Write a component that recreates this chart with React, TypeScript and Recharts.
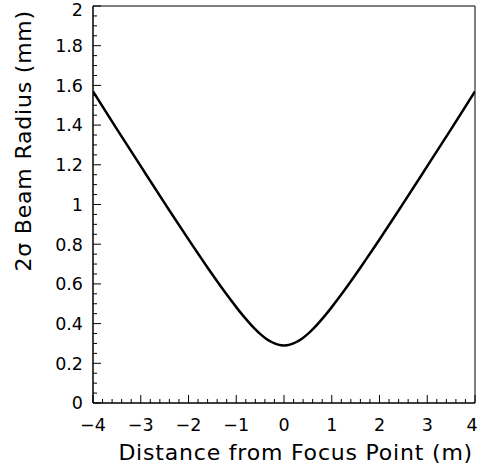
import React from "react";
import { LineChart, Line, XAxis, YAxis, ReferenceArea } from "recharts";

// beam radius (finer steps around the waist)
const distance = [
  -4, -3.5, -3, -2.5, -2, -1.75, -1.5, -1.25, -1, -0.875, -0.75, -0.625, -0.5,
  -0.375, -0.25, -0.125, 0, 0.125, 0.25, 0.375, 0.5, 0.625, 0.75, 0.875, 1,
  1.25, 1.5, 1.75, 2, 2.5, 3, 3.5, 4,
];
const radius = [
  1.57, 1.38, 1.193, 1.007, 0.824, 0.735, 0.647, 0.563, 0.483, 0.445, 0.41,
  0.377, 0.348, 0.324, 0.306, 0.294, 0.29, 0.294, 0.306, 0.324, 0.348, 0.377,
  0.41, 0.445, 0.483, 0.563, 0.647, 0.735, 0.824, 1.007, 1.193, 1.38, 1.57,
];

const xMajor = [-4, -3, -2, -1, 0, 1, 2, 3, 4];
const yMajor = [0, 0.2, 0.4, 0.6, 0.8, 1, 1.2, 1.4, 1.6, 1.8, 2];
const xTitle = "Distance from Focus Point (m)";
const yTitle = "2\u03c3 Beam Radius (mm)";

const FONT = "'DejaVu Sans', sans-serif";
const W = 479;

const data = distance.map((d, i) => ({ d, r: radius[i] }));

// minor ticks: 5 per unit on x, 4 per label step on y
const xTicks: number[] = [];
for (let i = -20; i <= 20; i++) xTicks.push(+(i * 0.2).toFixed(2));
const yTicks: number[] = [];
for (let i = 0; i <= 40; i++) yTicks.push(+(i * 0.05).toFixed(2));

const isMajor = (v: number, list: number[]) =>
  list.some((m) => Math.abs(m - v) < 1e-6);

const fmt = (v: number) =>
  v < 0 ? "\u2212" + String(Math.abs(v)) : String(v);

const XTick = (props: any) => {
  const { x, y, payload } = props;
  const major = isMajor(payload.value, xMajor);
  // keep the last label inside the page edge
  const tx = Math.min(x, W - 7);
  return (
    <g>
      <line x1={x} x2={x} y1={y} y2={y - (major ? 8 : 4)} stroke="#000" />
      {major && (
        <text
          x={tx}
          y={y + 28}
          textAnchor="middle"
          fontSize={17.5}
          fontFamily={FONT}
          fill="#000"
        >
          {fmt(payload.value)}
        </text>
      )}
    </g>
  );
};

const YTick = (props: any) => {
  const { x, y, payload } = props;
  const major = isMajor(payload.value, yMajor);
  const ty = Math.max(y, 10);
  return (
    <g>
      <line x1={x} x2={x + (major ? 8 : 4)} y1={y} y2={y} stroke="#000" />
      {major && (
        <text
          x={x - 10}
          y={ty}
          dy="0.36em"
          textAnchor="end"
          fontSize={17.5}
          fontFamily={FONT}
          fill="#000"
        >
          {fmt(payload.value)}
        </text>
      )}
    </g>
  );
};

export default function App() {
  return (
    <div
      style={{
        position: "absolute",
        left: 0,
        top: 0,
        width: W,
        height: 467,
        background: "#fff",
      }}
    >
      <LineChart
        width={W}
        height={467}
        data={data}
        margin={{ top: 6, right: 4, bottom: 0, left: 0 }}
      >
        <XAxis
          dataKey="d"
          type="number"
          domain={[-4, 4]}
          ticks={xTicks}
          interval={0}
          tick={<XTick />}
          tickLine={false}
          tickSize={0}
          tickMargin={0}
          height={64}
          stroke="#000"
          allowDataOverflow
        />
        <YAxis
          type="number"
          domain={[0, 2]}
          ticks={yTicks}
          interval={0}
          tick={<YTick />}
          tickLine={false}
          tickSize={0}
          tickMargin={0}
          width={93}
          stroke="#000"
          allowDataOverflow
        />
        <ReferenceArea
          x1={-4}
          x2={4}
          y1={0}
          y2={2}
          fill="none"
          stroke="#000"
          strokeWidth={1}
          ifOverflow="visible"
        />
        <Line
          dataKey="r"
          type="natural"
          stroke="#000"
          strokeWidth={2.5}
          dot={false}
          isAnimationActive={false}
        />
      </LineChart>
      <svg
        width={W}
        height={467}
        style={{ position: "absolute", left: 0, top: 0, pointerEvents: "none" }}
      >
        <text
          x={473}
          y={460}
          textAnchor="end"
          fontSize={22}
          letterSpacing={0.8}
          fontFamily={FONT}
          fill="#000"
        >
          {xTitle}
        </text>
        <text
          transform="translate(31,10) rotate(-90)"
          textAnchor="end"
          fontSize={22}
          letterSpacing={0.8}
          fontFamily={FONT}
          fill="#000"
        >
          {yTitle}
        </text>
      </svg>
    </div>
  );
}
